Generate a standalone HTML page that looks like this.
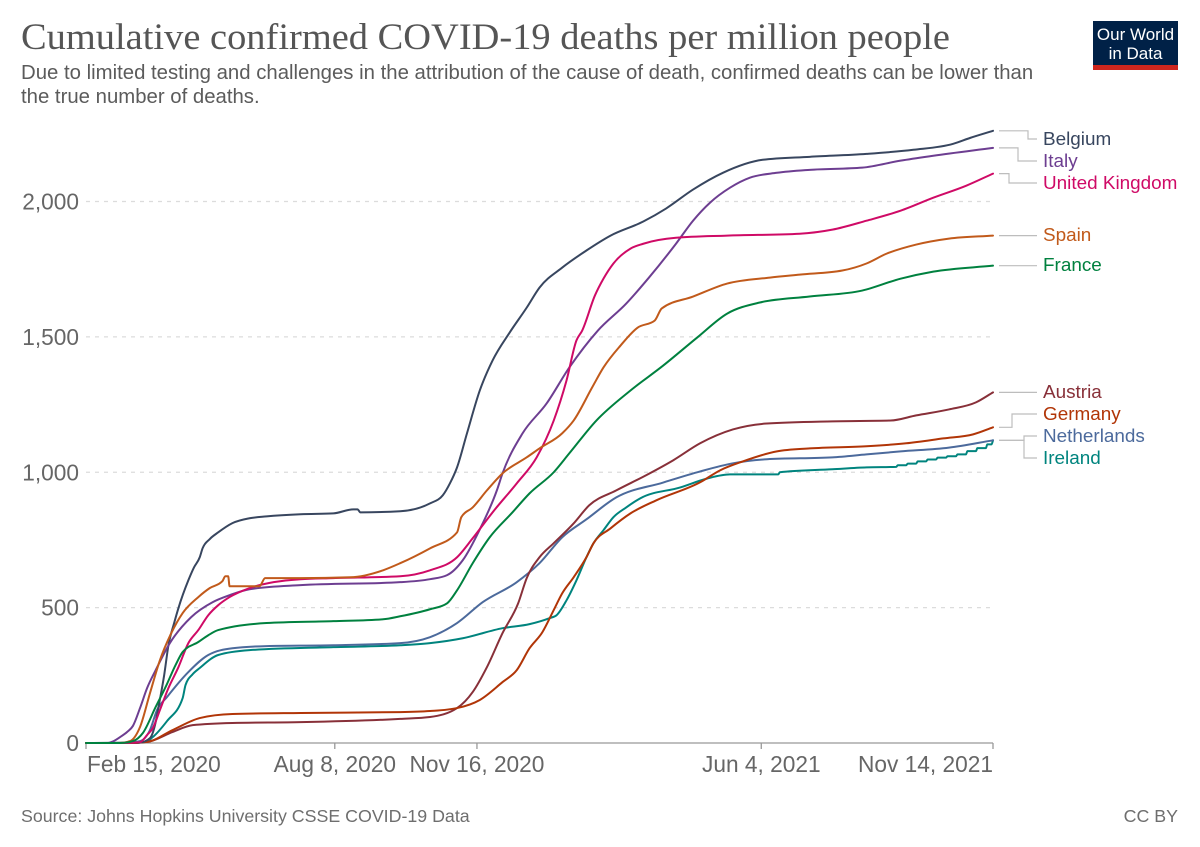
<!DOCTYPE html>
<html lang="en">
<head>
<meta charset="utf-8">
<title>Cumulative confirmed COVID-19 deaths per million people</title>
<style>
html,body{margin:0;padding:0;background:#fff;}
#chart{display:block;width:1200px;height:847px;font-family:"Liberation Sans",sans-serif;}
</style>
</head>
<body>
<svg id="chart" xmlns="http://www.w3.org/2000/svg" width="1200" height="847" viewBox="0 0 1200 847">
  <rect x="0" y="0" width="1200" height="847" fill="#fff"/>
  <text x="21" y="49" font-family="'Liberation Serif',serif" font-size="36.5" fill="#555" textLength="929" lengthAdjust="spacingAndGlyphs">Cumulative confirmed COVID-19 deaths per million people</text>
  <text x="21" y="79" font-size="20.35" fill="#5b5b5b">Due to limited testing and challenges in the attribution of the cause of death, confirmed deaths can be lower than</text>
  <text x="21" y="103" font-size="20.35" fill="#5b5b5b">the true number of deaths.</text>
  <g>
    <rect x="1093" y="21" width="85" height="49" fill="#002147"/>
    <rect x="1093" y="65" width="85" height="5" fill="#ce261e"/>
    <text x="1135.5" y="40" text-anchor="middle" font-size="17" fill="#fff">Our World</text>
    <text x="1135.5" y="59" text-anchor="middle" font-size="17" fill="#fff">in Data</text>
  </g>
  <g id="grid"></g>
  <g id="yTicks"></g>
  <g id="xAxis"></g>
  <g id="lines"></g>
  <g id="legend"></g>
  <text x="21" y="822" font-size="17.8" fill="#6e6e6e">Source: Johns Hopkins University CSSE COVID-19 Data</text>
  <text x="1178" y="822" text-anchor="end" font-size="17.8" fill="#6e6e6e">CC BY</text>
</svg>
<script>
// Days since Feb 15, 2020, and cumulative deaths per million, for each country.
const belgiumDays=[0,38,45,49,51,55,58,62,65,72,76,80,82,87,93,103,115,127,151,174,188,191,193,221,242,251,256,261,268,277,286,298,310,319,335,352,369,392,408,427,448,476,509,549,582,610,622,638];
const belgiumDeaths=[0,2,18,77,133,251,361,443,498,601,649,686,719,753,778,812,830,837,845,848,863,863,852,856,885,915,959,1018,1144,1302,1413,1516,1608,1682,1756,1819,1874,1926,1974,2044,2106,2154,2165,2176,2191,2213,2235,2261];
const italyDays=[0,15,19,24,29,33,38,43,49,59,74,89,101,115,151,221,242,254,265,277,289,293,307,324,340,360,380,396,415,427,439,453,467,486,509,546,573,596,638];
const italyDeaths=[0,0,6,22,41,63,129,203,269,369,465,520,546,568,583,594,605,620,675,789,933,996,1143,1254,1387,1523,1623,1719,1844,1929,1996,2051,2088,2106,2117,2125,2151,2169,2198];
const ukDays=[0,27,38,43,47,52,58,65,72,79,86,93,101,115,132,151,174,221,242,261,272,286,303,317,329,338,345,349,358,364,371,383,392,415,451,502,525,549,573,596,619,638];
const ukDeaths=[0,0,3,30,55,122,203,280,369,417,472,509,539,572,594,605,609,616,638,686,756,852,959,1055,1191,1339,1487,1523,1653,1715,1771,1826,1844,1866,1874,1881,1896,1929,1966,2014,2058,2103];
const spainDays=[0,23,31,38,45,52,60,68,79,87,96,98,100,101,122,126,151,186,209,221,242,261,264,272,282,293,310,319,335,343,356,364,376,388,400,405,427,451,481,502,532,549,563,584,607,638];
const spainDeaths=[0,0,7,59,184,306,406,480,539,572,598,616,616,579,579,609,609,612,638,664,719,778,834,870,933,996,1055,1088,1144,1191,1313,1387,1468,1534,1560,1605,1649,1697,1719,1730,1745,1771,1807,1841,1863,1874];
const franceDays=[0,24,33,40,49,56,63,68,79,86,93,127,174,209,221,242,254,261,272,284,300,312,329,340,359,383,406,430,451,474,509,546,573,596,638];
const franceDeaths=[0,0,7,37,133,207,288,336,373,398,417,443,450,457,468,494,516,564,664,760,852,922,1000,1070,1191,1302,1394,1498,1586,1627,1649,1671,1715,1741,1763];
const austriaDays=[0,30,43,61,75,103,151,221,242,261,272,282,293,304,310,319,329,343,354,373,394,413,432,455,479,525,566,584,607,626,638];
const austriaDeaths=[0,0,4,41,66,74,77,89,96,129,188,280,406,516,609,686,738,811,878,933,989,1044,1107,1158,1180,1188,1191,1210,1232,1258,1295];
const germanyDays=[0,30,43,61,80,103,151,221,242,261,277,293,303,312,321,329,335,343,352,357,369,383,401,432,446,462,486,509,549,577,603,624,638];
const germanyDeaths=[0,0,4,48,92,107,111,114,118,129,159,225,269,350,409,491,553,612,686,738,793,848,896,963,1007,1040,1077,1088,1096,1107,1125,1140,1166];
const netherlandsDays=[0,27,38,45,50,57,72,86,103,127,174,221,242,261,279,303,319,335,352,373,406,432,455,479,525,549,573,607,638];
const netherlandsDeaths=[0,0,7,48,122,170,262,325,350,358,361,369,391,443,520,594,664,760,826,907,962,1003,1033,1048,1055,1066,1077,1091,1118];
const irelandDays=[0,34,43,47,57,68,70,75,80,93,115,174,221,242,265,293,312,326,331,338,345,352,357,364,371,380,390,418,437,453,487,488,525,549,570,571,577,578,584,585,591,592,598,599,605,606,612,613,619,620,626,627,633,634,637,638];
const irelandDeaths=[0,0,7,22,81,166,214,254,277,325,343,354,361,369,387,424,439,461,472,527,601,686,738,786,834,870,904,944,977,992,992,1000,1011,1018,1020,1026,1026,1032,1032,1040,1040,1047,1047,1054,1054,1059,1059,1066,1066,1078,1078,1089,1089,1103,1103,1118];
// Axis data.
const yTickValues=[0,500,1000,1500,2000];
const yTickLabels=["0","500","1,000","1,500","2,000"];
const xTickDays=[0,175,275,475,638];
const xTickLabels=["Feb 15, 2020","Aug 8, 2020","Nov 16, 2020","Jun 4, 2021","Nov 14, 2021"];

const NS="http://www.w3.org/2000/svg";
const plotLeft=86, plotRight=993, plotBottom=743, plotTop2000=201.5;
function xScale(day){return plotLeft+(day-xTickDays[0])/(xTickDays[xTickDays.length-1]-xTickDays[0])*(plotRight-plotLeft);}
function yScale(v){return plotBottom-v/2000*(plotBottom-plotTop2000);}
function svgEl(tag,attrs,parent,text){
  const el=document.createElementNS(NS,tag);
  for(const k in attrs){el.setAttribute(k,attrs[k]);}
  if(text!==undefined){el.textContent=text;}
  parent.appendChild(el);
  return el;
}
// Monotone cubic path through the data points: no overshoot, smooth curve.
function curvePath(xs,ys){
  const n=xs.length, dx=[], m=[], t=[];
  for(let i=0;i<n-1;i++){dx[i]=xs[i+1]-xs[i];m[i]=(ys[i+1]-ys[i])/dx[i];}
  t[0]=m[0];t[n-1]=m[n-2];
  for(let i=1;i<n-1;i++){
    if(m[i-1]*m[i]<=0){t[i]=0;}
    else{
      const p=(m[i-1]*dx[i]+m[i]*dx[i-1])/(dx[i-1]+dx[i]);
      t[i]=(Math.sign(m[i-1])+Math.sign(m[i]))*Math.min(Math.abs(m[i-1]),Math.abs(m[i]),0.5*Math.abs(p));
    }
  }
  let d='M'+xs[0].toFixed(2)+' '+ys[0].toFixed(2);
  for(let i=0;i<n-1;i++){
    const h=dx[i]/3;
    d+='C'+(xs[i]+h).toFixed(2)+' '+(ys[i]+t[i]*h).toFixed(2)+' '+(xs[i+1]-h).toFixed(2)+' '+(ys[i+1]-t[i+1]*h).toFixed(2)+' '+xs[i+1].toFixed(2)+' '+ys[i+1].toFixed(2);
  }
  return d;
}
const grid=document.getElementById('grid');
const yTicks=document.getElementById('yTicks');
const xAxis=document.getElementById('xAxis');
const linesG=document.getElementById('lines');
const legend=document.getElementById('legend');

yTickValues.forEach(function(v,i){
  if(v!==0){
    const g=svgEl('line',{x1:plotLeft,x2:plotRight,y1:yScale(v),y2:yScale(v),stroke:'#dcdcdc','stroke-width':1.3,'stroke-dasharray':'4 5'},grid);
    
    
  }
  const t=svgEl('text',{x:79,y:yScale(v)+8,'text-anchor':'end','font-size':22.7,fill:'#666'},yTicks,yTickLabels[i]);
  
  
});

const axisLine=svgEl('line',{x1:plotLeft,x2:plotRight,y1:plotBottom,y2:plotBottom,stroke:'#999','stroke-width':1.3},xAxis);


xTickDays.forEach(function(d,i){
  const x=xScale(d);
  const tick=svgEl('line',{x1:x,x2:x,y1:plotBottom,y2:plotBottom+6,stroke:'#999','stroke-width':1.3},xAxis);
  
  
  const anchor=i===0?'start':(i===xTickDays.length-1?'end':'middle');
  const t=svgEl('text',{x:i===0?x+1:x,y:772,'text-anchor':anchor,'font-size':22.7,fill:'#666'},xAxis,xTickLabels[i]);
  
  
});

// Draw order back to front.
const seriesList=[
  {name:'ireland',label:'Ireland',color:'#00847e',days:irelandDays,vals:irelandDeaths,labelY:457,elbowX:1024},
  {name:'netherlands',label:'Netherlands',color:'#4c6a9c',days:netherlandsDays,vals:netherlandsDeaths,labelY:435,elbowX:1024},
  {name:'austria',label:'Austria',color:'#883039',days:austriaDays,vals:austriaDeaths,labelY:391,elbowX:null},
  {name:'germany',label:'Germany',color:'#b13507',days:germanyDays,vals:germanyDeaths,labelY:413,elbowX:1012},
  {name:'belgium',label:'Belgium',color:'#38465f',days:belgiumDays,vals:belgiumDeaths,labelY:138,elbowX:1028},
  {name:'italy',label:'Italy',color:'#6d3e91',days:italyDays,vals:italyDeaths,labelY:160,elbowX:1018},
  {name:'uk',label:'United Kingdom',color:'#cf0a66',days:ukDays,vals:ukDeaths,labelY:182,elbowX:1009},
  {name:'spain',label:'Spain',color:'#c15a1b',days:spainDays,vals:spainDeaths,labelY:234,elbowX:null},
  {name:'france',label:'France',color:'#00813f',days:franceDays,vals:franceDeaths,labelY:264,elbowX:null}
];
seriesList.forEach(function(s){
  const d=curvePath(s.days.map(xScale),s.vals.map(yScale));
  const path=svgEl('path',{d:d,fill:'none',stroke:s.color,'stroke-width':2,'stroke-linejoin':'round','stroke-linecap':'round'},linesG);
  
  

  const endY=yScale(s.vals[s.vals.length-1]);
  const cd=s.elbowX===null
    ? 'M999 '+endY.toFixed(1)+'H1037'
    : 'M999 '+endY.toFixed(1)+'H'+s.elbowX+'V'+(s.labelY+1)+'H1037';
  const conn=svgEl('path',{d:cd,fill:'none',stroke:'#bdbdbd','stroke-width':1.2},legend);
  
  
  const label=svgEl('text',{x:1043,y:s.labelY+7,'font-size':18.9,fill:s.color},legend,s.label);
  
  
});
</script>
</body>
</html>
